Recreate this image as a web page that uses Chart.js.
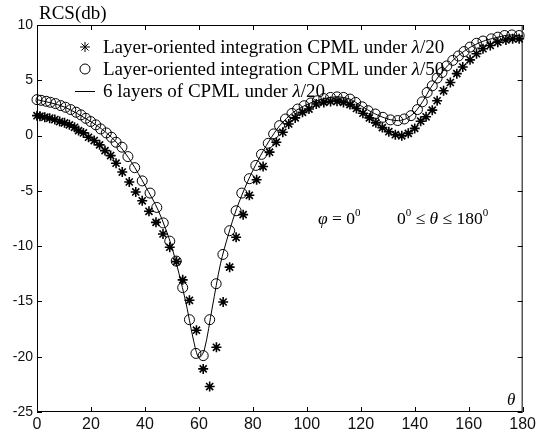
<!DOCTYPE html>
<html>
<head>
<meta charset="utf-8">
<script src="https://cdn.jsdelivr.net/npm/chart.js@4/dist/chart.umd.min.js"></script>
<style>
  html, body { margin: 0; padding: 0; background: #fff; }
  #wrap { width: 539px; height: 433px; }
</style>
</head>
<body>
<div id="wrap"><canvas id="rcs" width="539" height="433"></canvas></div>
<script>
// θ (deg) / RCS (db)
const circleTheta = [0, 1.5, 3.4, 5.0, 6.9, 8.8, 10.6, 12.5, 14.5, 16.3, 18.1, 19.9, 21.8, 23.6, 25.7, 27.6, 29.3, 31.5, 33.7, 36.2,
  39.0, 41.9, 44.4, 46.8, 49.2, 51.6, 54.0, 56.5, 58.9, 61.6, 64.0, 66.4, 68.9, 71.4, 73.8, 75.9, 78.7, 81.1, 83.2, 85.7,
  87.7, 89.9, 92.1, 94.5, 96.6, 99.0, 101.5, 103.9, 106.3, 108.8, 111.2, 113.6, 116.0, 118.1, 120.5, 122.7, 125.4, 128.2, 131.0, 133.7,
  136.1, 138.6, 141.0, 142.8, 144.6, 146.5, 148.3, 150.1, 151.9, 154.1, 156.2, 158.3, 160.5, 162.9, 165.3, 168.4, 170.8, 173.3, 176.0, 178.7];
const circleRcs = [3.25, 3.19, 3.10, 3.01, 2.89, 2.71, 2.56, 2.35, 2.11, 1.87, 1.56, 1.27, 0.97, 0.60, 0.24, -0.15, -0.60, -1.05, -1.9, -2.9,
  -4.1, -5.2, -6.5, -7.9, -9.55, -11.35, -13.75, -16.65, -19.7, -19.9, -16.65, -13.4, -10.75, -8.6, -6.8, -5.2, -3.9, -2.7, -1.7, -0.7,
  0.15, 0.9, 1.5, 2.0, 2.4, 2.7, 2.95, 3.15, 3.35, 3.45, 3.5, 3.45, 3.3, 3.0, 2.6, 2.25, 1.95, 1.65, 1.42, 1.36,
  1.5, 1.8, 2.35, 3.05, 3.9, 4.5, 5.2, 5.7, 6.3, 6.8, 7.2, 7.6, 8.0, 8.35, 8.55, 8.75, 8.9, 9.05, 9.1, 9.05];

const starTheta = [0, 1.1, 2.9, 4.7, 6.6, 8.4, 10.2, 12.0, 13.9, 15.4, 17.2, 19.1, 21.2, 23.2, 25.2, 27.3, 29.3, 31.6, 34.2, 36.6,
  39.0, 41.5, 44.1, 46.7, 49.2, 51.7, 54.0, 56.5, 59.1, 61.6, 64.0, 66.5, 69.0, 71.4, 73.8, 76.4, 78.7, 81.4, 83.8, 86.2,
  88.7, 91.1, 93.3, 95.7, 98.4, 100.8, 103.5, 106.3, 108.8, 111.2, 113.6, 116.0, 118.4, 120.8, 123.2, 125.6, 128.0, 130.4, 132.8, 135.2,
  137.6, 140.0, 142.2, 144.2, 146.5, 148.3, 150.7, 153.2, 155.6, 157.8, 160.5, 162.9, 165.3, 168.0, 170.8, 173.8, 176.3, 178.7];
const starRcs = [1.8, 1.75, 1.66, 1.57, 1.45, 1.27, 1.15, 0.97, 0.75, 0.45, 0.24, -0.15, -0.45, -0.84, -1.36, -1.81, -2.5, -3.3, -4.2, -5.1,
  -5.9, -6.85, -7.85, -8.9, -10.1, -11.4, -13.05, -14.9, -17.6, -21.1, -22.7, -19.15, -15.05, -11.9, -9.2, -7.15, -5.4, -4.0, -2.8, -1.5,
  -0.6, 0.3, 1.05, 1.6, 2.1, 2.4, 2.85, 3.0, 3.08, 3.1, 3.0, 2.8, 2.45, 2.02, 1.6, 1.15, 0.72, 0.35, 0.08, -0.02,
  0.2, 0.65, 1.3, 1.7, 2.3, 3.15, 4.05, 4.8, 5.6, 6.2, 6.85, 7.4, 7.85, 8.15, 8.45, 8.65, 8.75, 8.75];

const lineTheta = [0, 10, 20, 25, 30, 35, 40, 45, 50, 55, 58, 60, 62, 65, 68, 71, 74, 78, 82, 86,
  90, 95, 100, 105, 111, 116, 120, 125, 130, 134, 137, 140, 143, 146, 150, 155, 160, 165, 170, 175, 180];
const lineRcs = [3.25, 2.6, 1.25, 0.4, -0.75, -2.4, -4.5, -6.8, -10.1, -14.9, -18.5, -20.1, -19.4, -15.5, -11.6, -8.9, -6.6, -4.2, -2.2, -0.5,
  0.9, 2.1, 2.8, 3.25, 3.5, 3.3, 2.7, 2.0, 1.5, 1.35, 1.55, 2.1, 3.1, 4.35, 5.7, 7.0, 7.9, 8.5, 8.85, 9.1, 9.0];

const xTicks = [0, 20, 40, 60, 80, 100, 120, 140, 160, 180];
const yTicks = [-25, -20, -15, -10, -5, 0, 5, 10];

const legendRows = [
  { text: 'Layer-oriented integration CPML under ', sym: 'λ', tail: '/20', kind: 'star' },
  { text: 'Layer-oriented integration CPML under ', sym: 'λ', tail: '/50', kind: 'circle' },
  { text: '6 layers of CPML under ', sym: 'λ', tail: '/20', kind: 'line' }
];

const pts = (xs, ys) => xs.map((x, i) => ({ x, y: ys[i] }));
const SERIF = "'Liberation Serif', 'Times New Roman', serif";

// moldura + ticks para dentro (estilo MATLAB)
const framePlugin = {
  id: 'frame',
  afterDraw(chart) {
    const { ctx, chartArea: a, scales: { x, y } } = chart;
    ctx.save();
    ctx.strokeStyle = '#000';
    ctx.lineWidth = 1;
    ctx.strokeRect(a.left + 0.5, a.top + 0.5, a.right - a.left - 1, a.bottom - a.top - 1);
    ctx.beginPath();
    xTicks.forEach(v => {
      const px = Math.round(x.getPixelForValue(v)) + 0.5;
      ctx.moveTo(px, a.bottom); ctx.lineTo(px, a.bottom - 5);
      ctx.moveTo(px, a.top); ctx.lineTo(px, a.top + 5);
    });
    yTicks.forEach(v => {
      const py = Math.round(y.getPixelForValue(v)) + 0.5;
      ctx.moveTo(a.left, py); ctx.lineTo(a.left + 5, py);
      ctx.moveTo(a.right, py); ctx.lineTo(a.right - 5, py);
    });
    ctx.stroke();

    // textos
    ctx.fillStyle = '#000';
    ctx.textBaseline = 'alphabetic';
    ctx.textAlign = 'left';
    ctx.font = `19px ${SERIF}`;
    ctx.fillText('RCS(db)', 39, 19);

    ctx.font = `italic 17px ${SERIF}`;
    ctx.fillText('θ', 507, 405);

    // legenda
    legendRows.forEach((r, i) => {
      const cy = 47 + i * 22;
      if (r.kind === 'star') {
        Chart.helpers.drawPoint(ctx, { pointStyle: 'star', radius: 5, borderWidth: 1.6 }, 85, cy);
        ctx.strokeStyle = '#000';
      } else if (r.kind === 'circle') {
        ctx.beginPath(); ctx.lineWidth = 1; ctx.arc(85, cy, 5, 0, Math.PI * 2); ctx.stroke();
      } else {
        ctx.beginPath(); ctx.lineWidth = 1; ctx.moveTo(75, cy + 0.5); ctx.lineTo(95, cy + 0.5); ctx.stroke();
      }
      let tx = 103;
      ctx.font = `19px ${SERIF}`;
      ctx.fillText(r.text, tx, cy + 6); tx += ctx.measureText(r.text).width;
      ctx.font = `italic 19px ${SERIF}`;
      ctx.fillText(r.sym, tx, cy + 6); tx += ctx.measureText(r.sym).width;
      ctx.font = `19px ${SERIF}`;
      ctx.fillText(r.tail, tx, cy + 6);
    });

    // anotação φ = 0°, 0° ≤ θ ≤ 180°
    const base = 224;
    let tx = 318;
    const put = (t, font, dy = 0) => { ctx.font = font; ctx.fillText(t, tx, base + dy); tx += ctx.measureText(t).width; };
    put('φ', `italic 17.5px ${SERIF}`);
    put(' = 0', `17.5px ${SERIF}`);
    put('0', `11px ${SERIF}`, -8);
    tx = 397;
    put('0', `17.5px ${SERIF}`);
    put('0', `11px ${SERIF}`, -8);
    put(' ≤ ', `17.5px ${SERIF}`);
    put('θ', `italic 17.5px ${SERIF}`);
    put(' ≤ 180', `17.5px ${SERIF}`);
    put('0', `11px ${SERIF}`, -8);
    ctx.restore();
  }
};

new Chart(document.getElementById('rcs').getContext('2d'), {
  type: 'scatter',
  data: {
    datasets: [
      { label: 'star', data: pts(starTheta, starRcs), pointStyle: 'star', pointRadius: 5, borderColor: '#000', borderWidth: 1.6, backgroundColor: '#000', clip: false },
      { label: 'circle', data: pts(circleTheta, circleRcs), pointStyle: 'circle', pointRadius: 5, borderColor: '#000', borderWidth: 1, backgroundColor: 'rgba(0,0,0,0)', clip: false },
      { label: 'line', data: pts(lineTheta, lineRcs), showLine: true, pointRadius: 0, borderColor: '#000', borderWidth: 1, tension: 0.3, clip: false }
    ]
  },
  options: {
    responsive: false,
    animation: false,
    layout: { padding: { top: 25, right: 8, left: 0, bottom: 0 } },
    plugins: { legend: { display: false }, tooltip: { enabled: false } },
    scales: {
      x: {
        type: 'linear', min: 0, max: 180,
        afterBuildTicks: s => { s.ticks = xTicks.map(v => ({ value: v })); },
        afterFit: s => { s.height = 21; },
        grid: { display: false, drawTicks: false },
        border: { display: false },
        ticks: { color: '#111', padding: 3, maxRotation: 0, font: { family: "'Liberation Sans Narrow', 'Liberation Sans', Arial", size: 16 } }
      },
      y: {
        type: 'linear', min: -25, max: 10,
        afterBuildTicks: s => { s.ticks = yTicks.map(v => ({ value: v })); },
        afterFit: s => { s.width = 37; },
        grid: { display: false, drawTicks: false },
        border: { display: false },
        ticks: { color: '#111', padding: 4, font: { family: "'Liberation Sans', Arial", size: 14 } }
      }
    }
  },
  plugins: [framePlugin]
});
</script>
</body>
</html>
